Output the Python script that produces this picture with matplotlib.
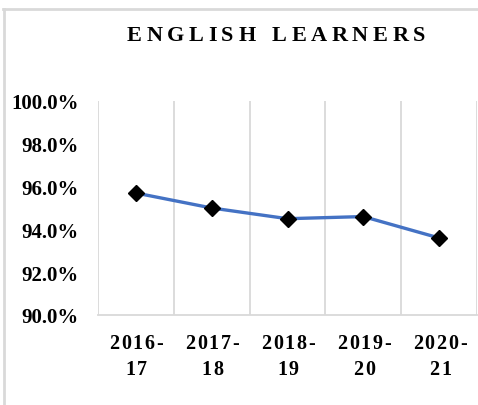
import matplotlib
matplotlib.use("Agg")
import matplotlib.pyplot as plt
from matplotlib.lines import Line2D
from matplotlib.font_manager import FontProperties

years = ["2016-17", "2017-18", "2018-19", "2019-20", "2020-21"]
rates = [95.7, 95.0, 94.5, 94.6, 93.6]
yticks = [90, 92, 94, 96, 98, 100]

W, H = 478, 406
fig = plt.figure(figsize=(W / 100, H / 100), dpi=100)
ax = fig.add_axes([98 / W, 1 - 316 / H, 379 / W, 214 / H])

serif = "Liberation Serif"
grid = "#D9D9D9"

x = list(range(len(years)))
ax.plot(x, rates, color="#4472C4", lw=2.4, marker="D", ms=7.8,
        mfc="black", mec="black", zorder=3)

ax.set_xlim(-0.5, len(years) - 0.5)
ax.set_ylim(90, 100)
for b in range(len(years) + 1):
    ax.axvline(b - 0.5, color=grid, lw=1.3, zorder=1)

ax.set_yticks(yticks)
ax.set_yticklabels([f"{v:.1f}%" for v in yticks], fontfamily=serif,
                   fontweight="bold", fontsize=15)
ax.tick_params(axis="y", length=0, pad=14)
ax.set_xticks([])
for s in ["top", "right", "left"]:
    ax.spines[s].set_visible(False)
ax.spines["bottom"].set_color(grid)
ax.spines["bottom"].set_linewidth(1.3)

fig.canvas.draw()
renderer = fig.canvas.get_renderer()


def spaced_text(s, cx, cy, size, gap):
    # draw text one glyph at a time with extra letter spacing (pixels)
    fp = FontProperties(family=serif, weight="bold", size=size)
    widths = [renderer.get_text_width_height_descent(c, fp, ismath=False)[0]
              if c != " " else size * 0.45 for c in s]
    total = sum(widths) + gap * (len(s) - 1)
    px = cx - total / 2
    for c, w in zip(s, widths):
        fig.text(px / W, 1 - cy / H, c, fontproperties=fp,
                 ha="left", va="center")
        px += w + gap


spaced_text("ENGLISH LEARNERS", 276, 36, 16, 4.6)

for i, label in enumerate(years):
    top, bottom = label.split("-")
    cx = 136 + i * 76
    spaced_text(top + "-", cx, 344, 14.5, 1.9)
    spaced_text(bottom, cx, 370, 14.5, 1.9)

# outer frame
fig.add_artist(Line2D([3 / W, 1], [1 - 10 / H] * 2, color=grid, lw=2,
                      transform=fig.transFigure))
fig.add_artist(Line2D([4 / W] * 2, [0, 1 - 10 / H], color=grid, lw=2,
                      transform=fig.transFigure))

fig.savefig("out.png", dpi=100)
